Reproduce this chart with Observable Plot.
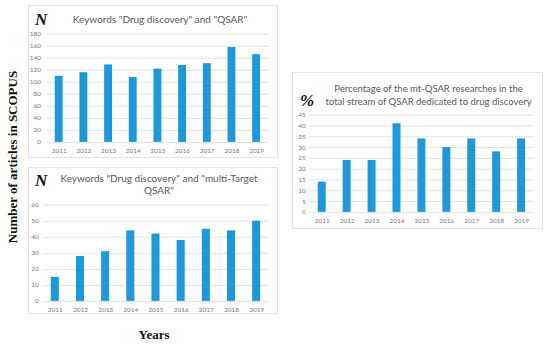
<!DOCTYPE html>
<html>
<head>
<meta charset="utf-8">
<script src="https://cdn.jsdelivr.net/npm/d3@7"></script>
<script src="https://cdn.jsdelivr.net/npm/@observablehq/plot@0.6"></script>
<style>
  html, body { margin: 0; padding: 0; background: #fff; }
  #root { position: relative; width: 550px; height: 347px; overflow: hidden; background: #fff; }
  .panel { position: absolute; border: 1px solid #e3e3e3; box-sizing: border-box; background: #fff; }
  .panel svg { position: absolute; left: 0; top: 0; }
  .ttl { position: absolute; font-family: Lato, "Open Sans", sans-serif; color: #595959; text-align: center; white-space: nowrap; }
  .sym { position: absolute; font-family: "Liberation Serif", "DejaVu Serif", serif; font-weight: bold; font-style: italic; font-size: 17px; color: #111; line-height: 1; }
  .lab { position: absolute; font-family: "Liberation Serif", "DejaVu Serif", serif; font-weight: bold; font-size: 13px; color: #111; white-space: nowrap; }
</style>
</head>
<body>
<div id="root"></div>
<script>
const years = ["2011","2012","2013","2014","2015","2016","2017","2018","2019"];
const qsarCounts = [110, 116, 129, 108, 122, 128, 131, 158, 146];
const mtQsarCounts = [15, 28, 31, 44, 42, 38, 45, 44, 50];
const mtShare = [14, 24, 24, 41, 34, 30, 34, 28, 34];

const title1 = ['Keywords "Drug discovery" and "QSAR"'];
const title2 = ['Keywords "Drug discovery" and "multi-Target', 'QSAR"'];
const title3 = ['Percentage of the mt-QSAR researches in the', 'total stream of QSAR dedicated to drug discovery'];
const yTicks1 = [0,20,40,60,80,100,120,140,160,180];
const yTicks2 = [0,10,20,30,40,50,60];
const yTicks3 = [0,5,10,15,20,25,30,35,40,45];

const barColor = "#1d98d8";
const root = document.getElementById("root");

function panel(cfg) {
  const div = document.createElement("div");
  div.className = "panel";
  Object.assign(div.style, {left: cfg.left + "px", top: cfg.top + "px", width: cfg.width + "px", height: cfg.height + "px"});
  const data = years.map((y, i) => ({year: y, value: cfg.values[i]}));
  const chart = Plot.plot({
    width: cfg.width,
    height: cfg.height,
    marginTop: cfg.mt, marginBottom: cfg.mb, marginLeft: cfg.ml, marginRight: cfg.mr,
    style: {fontFamily: "Lato, 'Open Sans', sans-serif", fontSize: "6.5px", color: "#7a7a7a", background: "transparent", overflow: "visible"},
    x: {domain: years, paddingInner: 0.68, paddingOuter: 0.34, round: false, label: null},
    y: {domain: [0, cfg.max], ticks: cfg.ticks, label: null},
    marks: [
      Plot.ruleY(cfg.ticks, {stroke: "#e2e2e2", strokeWidth: 1, strokeOpacity: 1}),
      Plot.barY(data, {x: "year", y: "value", fill: barColor}),
      Plot.axisY({ticks: cfg.ticks, tickSize: 0, tickPadding: cfg.ytp, label: null, fill: "#7a7a7a"}),
      Plot.axisX({tickSize: 0, tickPadding: cfg.xtp, label: null, fill: "#7a7a7a"})
    ]
  });
  div.appendChild(chart);
  cfg.title.forEach((line, k) => {
    const t = document.createElement("div");
    t.className = "ttl";
    t.textContent = line;
    Object.assign(t.style, {left: "0px", width: cfg.width + "px", top: (cfg.ty + k * cfg.lh) + "px", paddingLeft: cfg.tShift + "px", boxSizing: "border-box", fontSize: cfg.fs + "px", lineHeight: cfg.lh + "px"});
    div.appendChild(t);
  });
  const s = document.createElement("div");
  s.className = "sym";
  s.textContent = cfg.sym;
  Object.assign(s.style, {left: cfg.sx + "px", top: cfg.sy + "px"});
  div.appendChild(s);
  root.appendChild(div);
}

panel({left: 28, top: 5, width: 250, height: 153, values: qsarCounts, max: 180, ticks: yTicks1,
  mt: 28, mb: 16, ml: 17.5, mr: 8.6, ytp: 6, xtp: 6, title: title1, fs: 10, ty: 7, lh: 12, tShift: 12, sym: "N", sx: 6, sy: 5});
panel({left: 28, top: 167, width: 250, height: 147, values: mtQsarCounts, max: 60, ticks: yTicks2,
  mt: 37, mb: 13, ml: 13.3, mr: 8.3, ytp: 4, xtp: 6, title: title2, fs: 10, ty: 5, lh: 11.5, tShift: 10, sym: "N", sx: 6, sy: 4});
panel({left: 292, top: 72, width: 251, height: 157, values: mtShare, max: 45, ticks: yTicks3,
  mt: 42, mb: 17, ml: 16.4, mr: 8.5, ytp: 4, xtp: 6, title: title3, fs: 9.5, ty: 10, lh: 12.5, tShift: 20, sym: "%", sx: 7, sy: 19});

const yl = document.createElement("div");
yl.className = "lab";
yl.textContent = "Number of articles in SCOPUS";
Object.assign(yl.style, {left: "13px", top: "157px", transform: "translate(-50%, -50%) rotate(-90deg)"});
root.appendChild(yl);

const xl = document.createElement("div");
xl.className = "lab";
xl.textContent = "Years";
Object.assign(xl.style, {left: "154px", top: "335px", transform: "translate(-50%, -50%)"});
root.appendChild(xl);
</script>
</body>
</html>
